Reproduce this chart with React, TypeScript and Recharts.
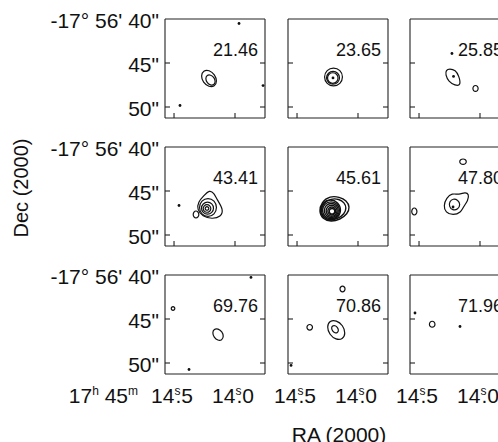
import React from 'react';
import { ScatterChart, Scatter, XAxis, YAxis } from 'recharts';

type Pt = [number, number];

// velocity of each channel map, km/s
const channels = ['21.46', '23.65', '25.85', '43.41', '45.61', '47.80', '69.76', '70.86', '71.96'];

// RA in seconds of 17h45m, Dec in arcsec of -17°56'
const raTicks = [14.5, 14.0];
const raTickLabels = ['14ˢ.5', '14ˢ.0'];
const raPrefix = '17ʰ 45ᵐ';
const decTicks = [40, 45, 50];
const decTickLabels = ['-17° 56\' 40"', '45"', '50"'];

const RA_DOMAIN: [number, number] = [13.754, 14.574];
const DEC_DOMAIN: [number, number] = [40, 51.25];

// contours, [ra, dec]
const p1Outer: Pt[] = [[14.166, 47.68], [14.146, 47.08], [14.165, 46.30], [14.212, 45.78], [14.260, 45.84], [14.280, 46.44], [14.262, 47.23], [14.214, 47.74]];
const p1Inner: Pt[] = [[14.172, 47.50], [14.159, 47.13], [14.171, 46.64], [14.200, 46.33], [14.230, 46.36], [14.243, 46.74], [14.231, 47.22], [14.201, 47.54]];
const p1Specks: Pt[] = [[13.967, 40.51], [13.770, 47.56], [14.451, 49.83]];

const p2Ring1: Pt[] = [[14.120, 46.59], [14.143, 47.39], [14.201, 47.72], [14.258, 47.39], [14.282, 46.59], [14.258, 45.79], [14.201, 45.47], [14.143, 45.79]];
const p2Ring2: Pt[] = [[14.146, 46.68], [14.163, 47.26], [14.205, 47.49], [14.246, 47.26], [14.264, 46.68], [14.246, 46.11], [14.205, 45.87], [14.163, 46.11]];
const p2Ring3: Pt[] = [[14.159, 46.70], [14.173, 47.18], [14.207, 47.37], [14.241, 47.18], [14.254, 46.70], [14.241, 46.24], [14.207, 46.04], [14.173, 46.24]];
const p2Specks: Pt[] = [[14.205, 46.70]];

const p3Outer: Pt[] = [[14.250, 45.63], [14.201, 45.80], [14.172, 46.48], [14.156, 47.56], [14.205, 47.56], [14.258, 47.10], [14.283, 46.36], [14.279, 45.80]];
const p3Small: Pt[] = [[14.013, 47.90], [14.020, 48.16], [14.037, 48.27], [14.054, 48.16], [14.060, 47.90], [14.054, 47.63], [14.037, 47.52], [14.020, 47.63]];
const p3Specks: Pt[] = [[14.217, 46.53], [14.230, 43.92]];

const p4Outer: Pt[] = [[14.209, 44.89], [14.172, 45.23], [14.148, 45.97], [14.094, 47.10], [14.115, 47.95], [14.189, 48.18], [14.266, 47.90], [14.311, 47.10], [14.303, 46.25], [14.254, 45.51]];
const p4Ring2: Pt[] = [[14.145, 46.88], [14.167, 47.67], [14.221, 48.00], [14.276, 47.67], [14.298, 46.88], [14.276, 46.08], [14.221, 45.75], [14.167, 46.08]];
const p4Ring3: Pt[] = [[14.171, 46.95], [14.187, 47.49], [14.225, 47.70], [14.264, 47.49], [14.280, 46.95], [14.264, 46.42], [14.225, 46.20], [14.187, 46.42]];
const p4Ring4: Pt[] = [[14.195, 46.99], [14.205, 47.33], [14.230, 47.46], [14.254, 47.33], [14.264, 46.99], [14.254, 46.65], [14.230, 46.51], [14.205, 46.65]];
const p4Ring5: Pt[] = [[14.213, 46.99], [14.218, 47.15], [14.230, 47.21], [14.241, 47.15], [14.246, 46.99], [14.241, 46.83], [14.230, 46.76], [14.218, 46.83]];
const p4Small: Pt[] = [[14.294, 47.67], [14.302, 47.98], [14.320, 48.11], [14.338, 47.98], [14.345, 47.67], [14.338, 47.36], [14.320, 47.23], [14.302, 47.36]];
const p4Specks: Pt[] = [[14.459, 46.65]];

const p5Outer: Pt[] = [[14.230, 45.57], [14.152, 45.68], [14.094, 46.08], [14.066, 46.82], [14.086, 47.61], [14.148, 48.24], [14.221, 48.52], [14.291, 48.18], [14.320, 47.33], [14.299, 46.25]];
const p5Second: Pt[] = [[14.221, 45.85], [14.156, 45.91], [14.111, 46.31], [14.094, 46.93], [14.111, 47.61], [14.164, 48.13], [14.221, 48.35], [14.283, 48.07], [14.307, 47.27], [14.287, 46.36]];
const p5Ring1: Pt[] = [[14.135, 47.16], [14.162, 48.05], [14.225, 48.41], [14.289, 48.05], [14.316, 47.16], [14.289, 46.27], [14.225, 45.91], [14.162, 46.27]];
const p5Ring2: Pt[] = [[14.145, 47.19], [14.167, 47.95], [14.221, 48.26], [14.276, 47.95], [14.298, 47.19], [14.276, 46.44], [14.221, 46.13], [14.167, 46.44]];
const p5Ring3: Pt[] = [[14.156, 47.22], [14.174, 47.84], [14.219, 48.09], [14.264, 47.84], [14.282, 47.22], [14.264, 46.60], [14.219, 46.34], [14.174, 46.60]];
const p5Ring4: Pt[] = [[14.167, 47.25], [14.181, 47.74], [14.216, 47.94], [14.252, 47.74], [14.266, 47.25], [14.252, 46.76], [14.216, 46.56], [14.181, 46.76]];
const p5Ring5: Pt[] = [[14.179, 47.27], [14.189, 47.63], [14.215, 47.77], [14.240, 47.63], [14.251, 47.27], [14.240, 46.92], [14.215, 46.77], [14.189, 46.92]];
const p5Ring6: Pt[] = [[14.188, 47.30], [14.195, 47.54], [14.213, 47.65], [14.231, 47.54], [14.238, 47.30], [14.231, 47.05], [14.213, 46.95], [14.195, 47.05]];

const p6Outer: Pt[] = [[14.230, 45.23], [14.172, 45.45], [14.123, 45.11], [14.090, 45.34], [14.098, 46.08], [14.135, 46.76], [14.156, 47.44], [14.221, 47.78], [14.283, 47.44], [14.299, 46.65], [14.275, 45.80]];
const p6Inner: Pt[] = [[14.221, 45.85], [14.180, 46.02], [14.160, 46.53], [14.180, 47.10], [14.225, 47.22], [14.254, 46.76], [14.250, 46.19]];
const p6Top: Pt[] = [[14.110, 41.67], [14.118, 41.91], [14.139, 42.01], [14.160, 41.91], [14.169, 41.67], [14.160, 41.43], [14.139, 41.33], [14.118, 41.43]];
const p6Edge: Pt[] = [[14.515, 47.33], [14.522, 47.64], [14.539, 47.77], [14.555, 47.64], [14.562, 47.33], [14.555, 47.02], [14.539, 46.89], [14.522, 47.02]];
const p6Specks: Pt[] = [[14.221, 46.82]];

const p7Ellipse: Pt[] = [[14.107, 47.41], [14.092, 46.98], [14.105, 46.44], [14.139, 46.08], [14.172, 46.12], [14.186, 46.54], [14.173, 47.09], [14.140, 47.45]];
const p7Edge: Pt[] = [[14.492, 43.81], [14.497, 43.97], [14.508, 44.03], [14.520, 43.97], [14.524, 43.81], [14.520, 43.65], [14.508, 43.58], [14.497, 43.65]];
const p7Specks: Pt[] = [[13.869, 40.28], [14.377, 50.74]];

const p8Outer: Pt[] = [[14.125, 47.31], [14.101, 46.62], [14.123, 45.71], [14.178, 45.13], [14.232, 45.19], [14.256, 45.88], [14.234, 46.79], [14.180, 47.37]];
const p8Inner: Pt[] = [[14.168, 46.57], [14.158, 46.30], [14.167, 45.95], [14.188, 45.72], [14.210, 45.75], [14.219, 46.02], [14.210, 46.37], [14.189, 46.60]];
const p8Left: Pt[] = [[14.371, 45.94], [14.378, 46.19], [14.396, 46.29], [14.414, 46.19], [14.421, 45.94], [14.414, 45.70], [14.396, 45.59], [14.378, 45.70]];
const p8Top: Pt[] = [[14.104, 41.59], [14.111, 41.84], [14.127, 41.94], [14.143, 41.84], [14.150, 41.59], [14.143, 41.34], [14.127, 41.24], [14.111, 41.34]];
const p8Specks: Pt[] = [[14.549, 50.28]];

const p9Small: Pt[] = [[14.367, 45.59], [14.374, 45.86], [14.392, 45.97], [14.410, 45.86], [14.417, 45.59], [14.410, 45.33], [14.392, 45.22], [14.374, 45.33]];
const p9Specks: Pt[] = [[14.533, 44.32], [14.164, 45.85]];

const panelContours: Pt[][][] = [
  [p1Outer, p1Inner],
  [p2Ring1, p2Ring2, p2Ring3],
  [p3Outer, p3Small],
  [p4Outer, p4Ring2, p4Ring3, p4Ring4, p4Ring5, p4Small],
  [p5Outer, p5Second, p5Ring1, p5Ring2, p5Ring3, p5Ring4, p5Ring5, p5Ring6],
  [p6Outer, p6Inner, p6Top, p6Edge],
  [p7Ellipse, p7Edge],
  [p8Outer, p8Inner, p8Left, p8Top],
  [p9Small],
];
const panelSpecks: Pt[][] = [p1Specks, p2Specks, p3Specks, p4Specks, [], p6Specks, p7Specks, p8Specks, p9Specks];

const INK = '#111';
const FONT = '"Liberation Sans", Arial, Helvetica, sans-serif';
const colLeft = [167, 288, 410];
const rowTop = [19, 147, 275];
const PW = 100;
const PH = 99;
const M = 2;
const MT = 14;

const SUP: Record<string, string> = { 'ʰ': 'h', 'ᵐ': 'm', 'ˢ': 's' };

// turns h/m/s markers into small raised letters; a point after "s" sits under it
function withSup(text: string) {
  const parts = text.split(/([ʰᵐˢ])/).filter((p) => p !== '');
  let up = false;
  return parts.map((p, i) => {
    if (SUP[p]) {
      up = true;
      return (
        <tspan key={i} fontSize={12} dy={-8}>
          {SUP[p]}
        </tspan>
      );
    }
    const back = up;
    up = false;
    return (
      <tspan key={i} dy={back ? 8 : 0} dx={back && p[0] === '.' ? -5 : 0}>
        {p}
      </tspan>
    );
  });
}

function DecTick(props: any) {
  const { x, y, payload } = props;
  const i = decTicks.indexOf(payload.value);
  return (
    <text x={x} y={y} dy={9} textAnchor="end" fontSize={21} fill={INK} fontFamily={FONT}>
      {decTickLabels[i]}
    </text>
  );
}

function makeRaTick(withPrefix: boolean) {
  return (props: any) => {
    const { x, y, payload } = props;
    const i = raTicks.indexOf(payload.value);
    return (
      <g>
        <text x={x - 2} y={y + 19} textAnchor="middle" fontSize={21} fill={INK} fontFamily={FONT}>
          {withSup(raTickLabels[i])}
        </text>
        {withPrefix && i === 0 && (
          <text x={x - 36} y={y + 19} textAnchor="end" fontSize={21} fill={INK} fontFamily={FONT}>
            {withSup(raPrefix)}
          </text>
        )}
      </g>
    );
  };
}

const NoTick = () => <g />;
const NoDot = () => <g />;
const Speck = (props: any) => <circle cx={props.cx} cy={props.cy} r={1.4} fill={INK} />;

const border = { stroke: '#222', strokeWidth: 1.1 };

function Panel({ idx }: { idx: number }) {
  const r = Math.floor(idx / 3);
  const c = idx % 3;
  const first = c === 0;
  const last = r === 2;
  const labW = first ? colLeft[0] - M : 0;
  const labH = last ? 40 : 0;
  const ml = first ? 0 : last ? 24 : M;
  const left = first ? 0 : colLeft[c] - ml;
  const label = channels[idx];
  const renderLabel = (p: any) => {
    const vb = p.viewBox || {};
    return (
      <text x={vb.x + vb.width - 7} y={vb.y + 37} textAnchor="end" fontSize={18} fill={INK} fontFamily={FONT}>
        {label}
      </text>
    );
  };
  return (
    <div style={{ position: 'absolute', left, top: rowTop[r] - MT }}>
      <ScatterChart width={labW + PW + ml + M} height={PH + MT + M + labH} margin={{ top: MT, right: M, bottom: M, left: ml }}>
        {last ? (
          <XAxis xAxisId="b" dataKey="ra" type="number" domain={RA_DOMAIN} reversed allowDataOverflow orientation="bottom" height={labH} ticks={raTicks} interval={0} axisLine={false} tickLine={false} tickSize={0} tickMargin={10} tick={makeRaTick(first)} />
        ) : (
          <XAxis xAxisId="b" dataKey="ra" type="number" domain={RA_DOMAIN} reversed allowDataOverflow orientation="bottom" mirror height={1} ticks={raTicks} interval={0} tick={NoTick} tickSize={5} axisLine={border} tickLine={border} />
        )}
        {last && (
          <XAxis xAxisId="bm" type="number" domain={RA_DOMAIN} reversed allowDataOverflow orientation="bottom" mirror height={1} ticks={raTicks} interval={0} tick={NoTick} tickSize={5} axisLine={border} tickLine={border} />
        )}
        <XAxis xAxisId="t" type="number" domain={RA_DOMAIN} reversed allowDataOverflow orientation="top" mirror height={1} ticks={raTicks} interval={0} tick={NoTick} tickSize={5} axisLine={border} tickLine={border} label={{ content: renderLabel }} />
        <YAxis yAxisId="l" dataKey="dec" type="number" domain={DEC_DOMAIN} reversed allowDataOverflow orientation="left" mirror width={1} ticks={[45, 50]} interval={0} tick={NoTick} tickSize={5} axisLine={border} tickLine={border} />
        <YAxis yAxisId="r" type="number" domain={DEC_DOMAIN} reversed allowDataOverflow orientation="right" mirror width={1} ticks={[45, 50]} interval={0} tick={NoTick} tickSize={5} axisLine={border} tickLine={border} />
        {first && (
          <YAxis yAxisId="lab" type="number" domain={DEC_DOMAIN} reversed allowDataOverflow orientation="left" width={labW} ticks={decTicks} interval={0} axisLine={false} tickLine={false} tickSize={0} tickMargin={6} tick={<DecTick />} />
        )}
        {panelContours[idx].map((pts, k) => (
          <Scatter
            key={k}
            xAxisId="b"
            yAxisId="l"
            data={pts.map(([ra, dec]) => ({ ra, dec }))}
            line={{ stroke: INK, strokeWidth: idx === 4 ? 1.4 : 1.2 }}
            lineJointType="basisClosed"
            shape={NoDot}
            isAnimationActive={false}
          />
        ))}
        <Scatter xAxisId="b" yAxisId="l" data={panelSpecks[idx].map(([ra, dec]) => ({ ra, dec }))} shape={Speck} isAnimationActive={false} />
      </ScatterChart>
    </div>
  );
}

export default function App() {
  return (
    <div style={{ position: 'absolute', left: 0, top: 0, width: 498, height: 442, overflow: 'hidden', background: '#fff', fontFamily: FONT, color: INK }}>
      {channels.map((_, i) => (
        <Panel key={i} idx={i} />
      ))}
      <div style={{ position: 'absolute', left: 21, top: 188, transform: 'translate(-50%, -50%) rotate(-90deg)', fontSize: 20, whiteSpace: 'nowrap', lineHeight: 1 }}>
        Dec (2000)
      </div>
      <div style={{ position: 'absolute', left: 339, top: 434, transform: 'translate(-50%, -50%)', fontSize: 21, whiteSpace: 'nowrap', lineHeight: 1 }}>
        RA (2000)
      </div>
    </div>
  );
}
